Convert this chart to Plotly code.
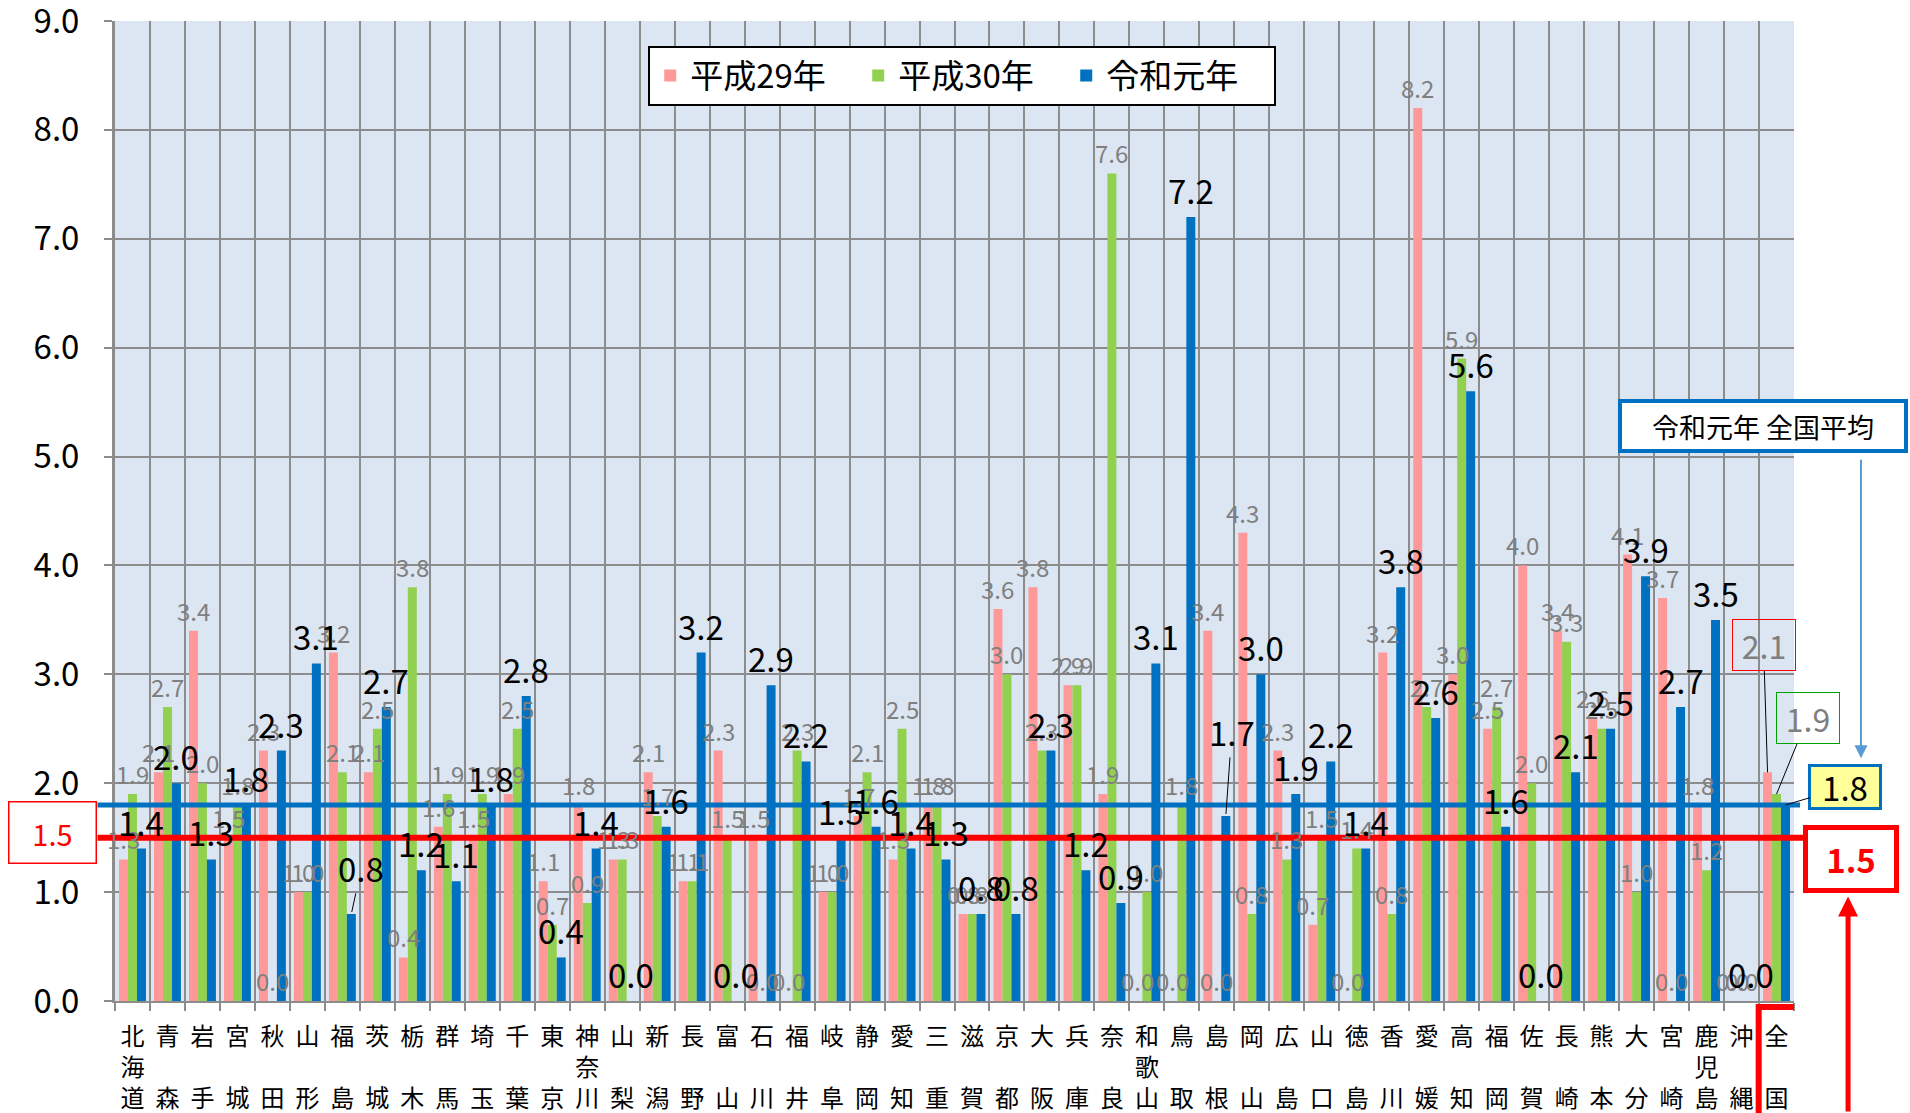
import plotly.graph_objects as go

# ---------------- data ----------------
prefectures = ["北海道", "青森", "岩手", "宮城", "秋田", "山形", "福島", "茨城", "栃木", "群馬",
               "埼玉", "千葉", "東京", "神奈川", "山梨", "新潟", "長野", "富山", "石川", "福井",
               "岐阜", "静岡", "愛知", "三重", "滋賀", "京都", "大阪", "兵庫", "奈良", "和歌山",
               "鳥取", "島根", "岡山", "広島", "山口", "徳島", "香川", "愛媛", "高知", "福岡",
               "佐賀", "長崎", "熊本", "大分", "宮崎", "鹿児島", "沖縄", "全国"]

h29 = [1.3, 2.1, 3.4, 1.5, 2.3, 1.0, 3.2, 2.1, 0.4, 1.6,
       1.5, 1.9, 1.1, 1.8, 1.3, 2.1, 1.1, 2.3, 1.5, 0.0,
       1.0, 1.7, 1.3, 1.8, 0.8, 3.6, 3.8, 2.9, 1.9, 0.0,
       0.0, 3.4, 4.3, 2.3, 0.7, 0.0, 3.2, 8.2, 3.0, 2.5,
       4.0, 3.4, 2.6, 4.1, 3.7, 1.8, 0.0, 2.1]

h30 = [1.9, 2.7, 2.0, 1.8, 0.0, 1.0, 2.1, 2.5, 3.8, 1.9,
       1.9, 2.5, 0.7, 0.9, 1.3, 1.7, 1.1, 1.5, 0.0, 2.3,
       1.0, 2.1, 2.5, 1.8, 0.8, 3.0, 2.3, 2.9, 7.6, 1.0,
       1.8, 0.0, 0.8, 1.3, 1.5, 1.4, 0.8, 2.7, 5.9, 2.7,
       2.0, 3.3, 2.5, 1.0, 0.0, 1.2, 0.0, 1.9]

r1 = [1.4, 2.0, 1.3, 1.8, 2.3, 3.1, 0.8, 2.7, 1.2, 1.1,
      1.8, 2.8, 0.4, 1.4, 0.0, 1.6, 3.2, 0.0, 2.9, 2.2,
      1.5, 1.6, 1.4, 1.3, 0.8, 0.8, 2.3, 1.2, 0.9, 3.1,
      7.2, 1.7, 3.0, 1.9, 2.2, 1.4, 3.8, 2.6, 5.6, 1.6,
      0.0, 2.1, 2.5, 3.9, 2.7, 3.5, 0.0, 1.8]

series_names = ["平成29年", "平成30年", "令和元年"]
y_tick_values = [0, 1, 2, 3, 4, 5, 6, 7, 8, 9]
national_avg_label = "令和元年 全国平均"
national_avg_r1 = r1[-1]
target_value = 1.5

# ---------------- styling ----------------
FONT = "Noto Sans CJK JP"
C_PINK = "#FF9999"
C_GREEN = "#92D050"
C_BLUE = "#0070C0"
GRID = "#8C8C8C"
GRAY_TXT = "#7F7F7F"
BARGAP = 0.23
PLOT_W = 1910 - 115 - 116
BAR_W = PLOT_W / len(prefectures) * (1 - BARGAP) / 3
# labels that Excel moved away from their bar (leader lines): name -> (dx, dy) pixels
moved_r1_labels = {"福島": (10, -46), "島根": (6, -84)}


def stack(name):
    if len(name) == 2:
        return f"{name[0]}<br>　<br>{name[1]}"
    return "<br>".join(name)


tick_text = [stack(p) for p in prefectures]

fig = go.Figure()
series = [
    (series_names[0], h29, C_PINK, GRAY_TXT, 24, -BAR_W),
    (series_names[1], h30, C_GREEN, GRAY_TXT, 24, 0.0),
    (series_names[2], r1, C_BLUE, "black", 33, BAR_W),
]
annotations = []
for name, vals, color, tcolor, tsize, off in series:
    fig.add_trace(go.Bar(
        x=prefectures, y=vals, name=name, marker=dict(color=color, line=dict(width=0)),
    ))
    for p, v in zip(prefectures[:-1], vals[:-1]):
        if name == series_names[2] and p in moved_r1_labels:
            dx, dy = moved_r1_labels[p]
            annotations.append(dict(
                x=p, y=v, xref="x", yref="y", xshift=off, text=f"{v:.1f}",
                showarrow=True, arrowhead=0, arrowwidth=1, arrowcolor="black",
                ax=dx, ay=dy, standoff=2,
                font=dict(size=tsize, color=tcolor, family=FONT)))
        else:
            annotations.append(dict(
                x=p, y=v, xref="x", yref="y", xshift=off, yshift=1, yanchor="bottom",
                xanchor="center", text=f"{v:.1f}", showarrow=False,
                font=dict(size=tsize, color=tcolor, family=FONT)))

# ---------------- reference lines ----------------
shapes = [
    dict(type="line", xref="paper", yref="y", x0=-0.0104, x1=1.0036,
         y0=national_avg_r1, y1=national_avg_r1, line=dict(color=C_BLUE, width=5), layer="above"),
    dict(type="line", xref="paper", yref="y", x0=-0.0104, x1=1.0054,
         y0=target_value, y1=target_value, line=dict(color="#FF0000", width=6), layer="above"),
    # highlight box around the national tick label
    dict(type="rect", xref="x", yref="paper", x0=46.49, x1=47.63, y0=-0.14, y1=-0.006,
         line=dict(color="#FF0000", width=6), fillcolor="rgba(0,0,0,0)", layer="above"),
]

annotations += [
    # national callouts
    dict(x=prefectures[-1], y=h29[-1], xref="x", yref="y", xshift=-BAR_W,
         text=f"{h29[-1]:.1f}", showarrow=True, arrowhead=0, arrowwidth=1, arrowcolor="black",
         ax=-4, ay=-127, standoff=0, font=dict(size=32, color=GRAY_TXT, family=FONT),
         bordercolor="#FF0000", borderwidth=1, width=60, height=48, bgcolor="rgba(0,0,0,0)"),
    dict(x=prefectures[-1], y=h30[-1], xref="x", yref="y", xshift=0,
         text=f"{h30[-1]:.1f}", showarrow=True, arrowhead=0, arrowwidth=1, arrowcolor="black",
         ax=31, ay=-76, standoff=0, font=dict(size=32, color=GRAY_TXT, family=FONT),
         bordercolor="#00A000", borderwidth=1, width=60, height=48, bgcolor="rgba(0,0,0,0)"),
    dict(x=prefectures[-1], y=r1[-1], xref="x", yref="y", xshift=BAR_W,
         text=f"{r1[-1]:.1f}", showarrow=True, arrowhead=0, arrowwidth=1, arrowcolor="black",
         ax=60, ay=-18, standoff=0, font=dict(size=33, color="black", family=FONT),
         bordercolor=C_BLUE, borderwidth=3, width=66, height=38, bgcolor="#FFFF99"),
    # left target box
    dict(x=-0.0372, y=1.55, xref="paper", yref="y", xanchor="center", yanchor="middle",
         text=f"{target_value:.1f}", showarrow=False,
         font=dict(size=29, color="#FF0000", family=FONT), bordercolor="#FF0000", borderwidth=1.5,
         width=84, height=58, bgcolor="white"),
    # right target box
    dict(x=1.0339, y=1.30, xref="paper", yref="y", xanchor="center", yanchor="middle",
         text=f"<b>{target_value:.1f}</b>", showarrow=False,
         font=dict(size=33, color="#FF0000", family=FONT), bordercolor="#FF0000", borderwidth=5,
         width=84, height=56, bgcolor="white"),
    # national average caption box
    dict(x=0.9815, y=5.28, xref="paper", yref="y", xanchor="center", yanchor="middle",
         text=national_avg_label, showarrow=False,
         font=dict(size=27, color="black", family=FONT), bordercolor=C_BLUE, borderwidth=4,
         width=280, height=44, bgcolor="white"),
    # arrows
    dict(x=1.0399, y=2.23, xref="paper", yref="y", text="", showarrow=True, arrowhead=2,
         arrowsize=1.3, arrowwidth=2, arrowcolor="#5B9BD5", ax=0, ay=-300, standoff=0),
    dict(x=1.0322, y=0.96, xref="paper", yref="y", text="", showarrow=True, arrowhead=2,
         arrowsize=0.8, arrowwidth=5, arrowcolor="#FF0000", ax=0, ay=230, standoff=0),
]

fig.update_layout(
    width=1910, height=1113,
    margin=dict(l=115, r=116, t=21, b=112),
    plot_bgcolor="#DCE6F2", paper_bgcolor="white",
    font=dict(family=FONT, color="black"),
    barmode="group", bargap=BARGAP, bargroupgap=0,
    showlegend=True,
    legend=dict(orientation="h", x=0.5046, xanchor="center", y=0.975, yanchor="top",
                bgcolor="white", bordercolor="black", borderwidth=2,
                font=dict(size=33, family=FONT), itemclick=False, traceorder="normal",
                entrywidth=163),
    shapes=shapes, annotations=annotations,
)
fig.update_xaxes(
    type="category", tickmode="array", tickvals=prefectures, ticktext=tick_text,
    tickson="boundaries", showgrid=True, gridcolor=GRID, gridwidth=2,
    ticks="outside", ticklen=8, tickcolor=GRID, tickwidth=2,
    showline=True, linecolor=GRID, linewidth=2, automargin=False,
    tickfont=dict(size=24, family=FONT, color="black"), tickangle=0,
    ticklabelstandoff=13, range=[-0.5, 47.5], ticklabeloverflow="allow",
)
fig.update_yaxes(
    range=[0, 9], tickmode="linear", tick0=0, dtick=1, tickformat=".1f",
    showgrid=True, gridcolor=GRID, gridwidth=2, automargin=False,
    ticks="outside", ticklen=8, tickcolor=GRID, tickwidth=2,
    showline=True, linecolor=GRID, linewidth=3, zeroline=False,
    tickfont=dict(size=33, family=FONT, color="black"), ticklabelstandoff=18,
    ticklabeloverflow="allow",
)

fig.write_html("out.html", config={"displayModeBar": False},
               post_script="document.body.style.margin='0';document.body.style.overflow='hidden';")
